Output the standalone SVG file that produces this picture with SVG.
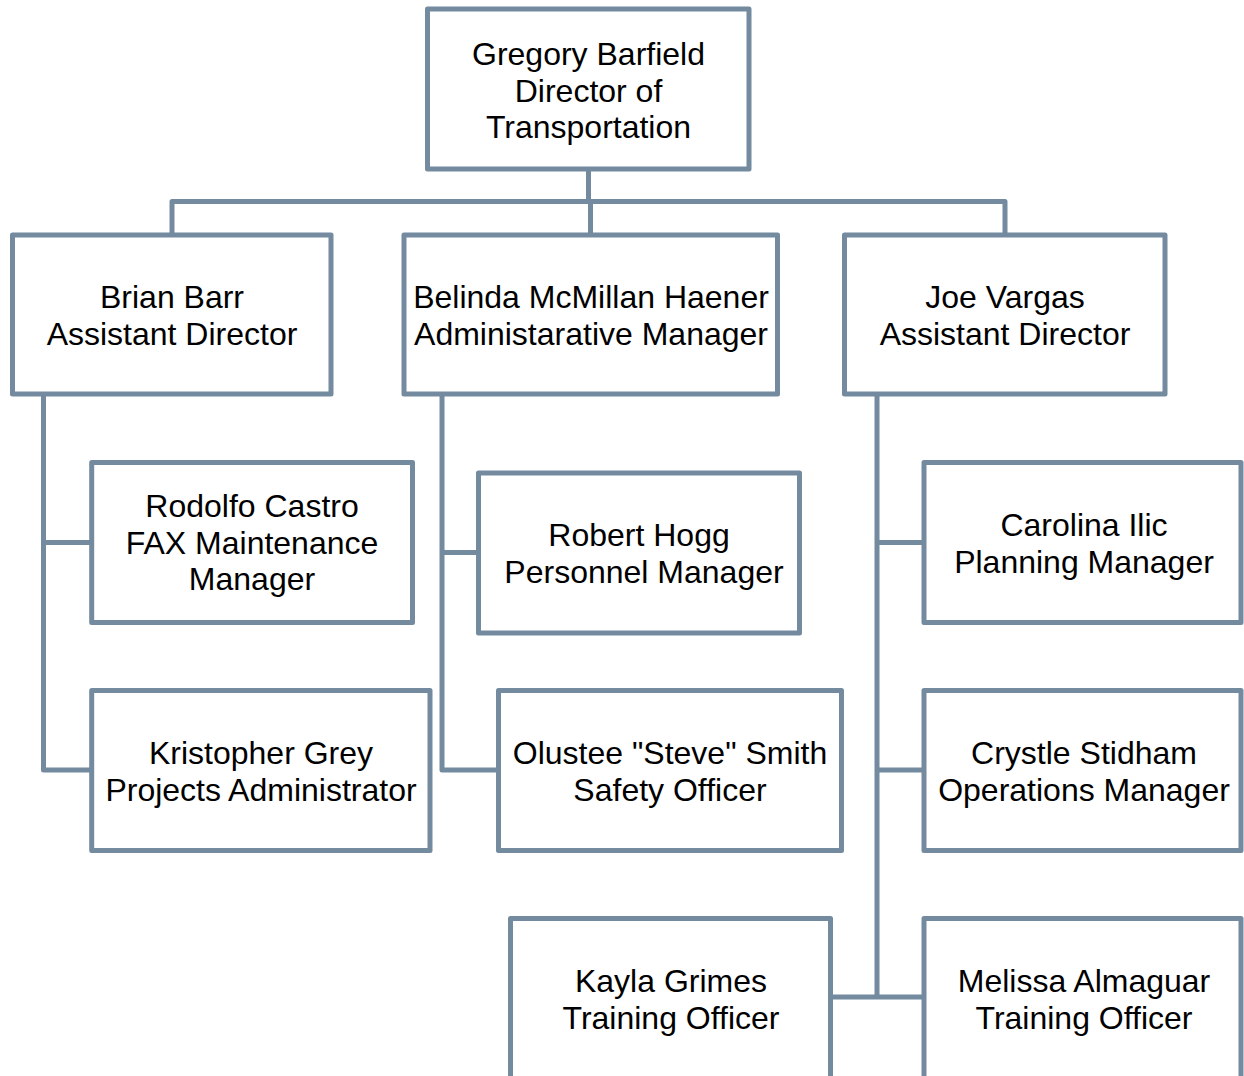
<svg xmlns="http://www.w3.org/2000/svg" width="1244" height="1076" viewBox="0 0 1244 1076">
<style>
.box{fill:#ffffff;stroke:#738a9f;stroke-width:5;stroke-linejoin:round}
.ln{fill:none;stroke:#738a9f;stroke-width:5;stroke-linejoin:round}
text{font-family:"Liberation Sans",Arial,sans-serif;font-size:32px;fill:#000;text-anchor:middle}
</style>
<rect width="1244" height="1076" fill="#ffffff"/>
<g id="connectors">
<path class="ln" d="M588.5,169V201.5M172,235V201.5H1005V235M590.5,201.5V235"/>
<path class="ln" d="M43.5,394V770H91.7M43.5,542.5H91.7"/>
<path class="ln" d="M442,394V770H498.5M442,552.5H478.5"/>
<path class="ln" d="M877,394V997M877,542.5H924M877,770H924M830.5,997H924"/>
</g>
<g id="n-gregory"><rect class="box" x="427.5" y="9" width="321.5" height="160"/><text x="588.5" y="65">Gregory Barfield</text><text x="588.5" y="101.5">Director of</text><text x="588.5" y="138">Transportation</text></g>
<g id="n-brian"><rect class="box" x="12.5" y="235" width="318.5" height="159"/><text x="172" y="308">Brian Barr</text><text x="172" y="345">Assistant Director</text></g>
<g id="n-belinda"><rect class="box" x="404" y="235" width="373.5" height="159"/><text x="591" y="308">Belinda McMillan Haener</text><text x="591" y="345">Administarative Manager</text></g>
<g id="n-joe"><rect class="box" x="844.5" y="235" width="320.5" height="159"/><text x="1005" y="308">Joe Vargas</text><text x="1005" y="345">Assistant Director</text></g>
<g id="n-rodolfo"><rect class="box" x="91.7" y="462.5" width="320.8" height="160"/><text x="252" y="517">Rodolfo Castro</text><text x="252" y="553.5">FAX Maintenance</text><text x="252" y="590">Manager</text></g>
<g id="n-kristopher"><rect class="box" x="91.7" y="690.5" width="338.3" height="160"/><text x="261" y="763.5">Kristopher Grey</text><text x="261" y="800.5">Projects Administrator</text></g>
<g id="n-robert"><rect class="box" x="478.5" y="473" width="321" height="160"/><text x="639" y="546">Robert Hogg</text><text x="644" y="583">Personnel Manager</text></g>
<g id="n-olustee"><rect class="box" x="498.5" y="690.5" width="343" height="160"/><text x="670" y="764">Olustee "Steve" Smith</text><text x="670" y="801">Safety Officer</text></g>
<g id="n-carolina"><rect class="box" x="924" y="462.5" width="317" height="160"/><text x="1084" y="536">Carolina Ilic</text><text x="1084" y="573">Planning Manager</text></g>
<g id="n-crystle"><rect class="box" x="924" y="690.5" width="317" height="160"/><text x="1084" y="763.5">Crystle Stidham</text><text x="1084" y="800.5">Operations Manager</text></g>
<g id="n-kayla"><rect class="box" x="510.5" y="918.5" width="320" height="160"/><text x="671" y="992">Kayla Grimes</text><text x="671" y="1029">Training Officer</text></g>
<g id="n-melissa"><rect class="box" x="924" y="918.5" width="317" height="160"/><text x="1084" y="992">Melissa Almaguar</text><text x="1084" y="1029">Training Officer</text></g>
</svg>
